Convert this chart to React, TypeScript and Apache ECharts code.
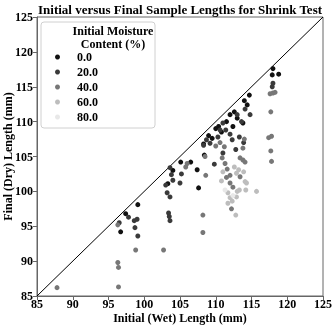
import React, { useEffect, useRef } from "react";
import * as echarts from "echarts";

const moistureLevels = ["0.0", "20.0", "40.0", "60.0", "80.0"];
const levelColors = ["#111111", "#3a3a3a", "#777777", "#bdbdbd", "#e8e8e8"];

const mc0: number[][] = [
  [96.7, 94.2], [97.4, 96.8], [99.1, 98.1], [105.1, 104.2], [106.5, 104.2], [107.4, 103.1],
  [108.4, 105.2], [109.0, 108.0], [110.0, 109.0], [110.4, 109.3], [111.5, 110.0], [112.0, 111.0],
  [112.6, 111.4], [113.0, 110.5], [114.0, 113.0], [114.7, 113.8], [114.4, 112.4], [118.0, 117.6],
  [118.8, 116.8], [117.9, 116.7], [104.0, 103.0], [103.3, 101.1], [113.8, 109.8], [112.4, 109.3],
  [110.8, 108.5], [109.5, 107.6], [108.3, 106.8], [107.6, 100.5],
];
const mc20: number[][] = [
  [96.5, 95.5], [97.8, 96.3], [98.6, 95.8], [99.0, 96.0], [98.7, 94.8], [99.1, 93.6],
  [103.2, 99.8], [103.6, 99.2], [103.4, 96.9], [103.5, 96.4], [103.6, 95.8], [103.0, 100.9],
  [103.6, 103.4], [103.8, 102.4], [104.0, 101.6], [105.2, 102.5], [105.0, 101.2], [109.8, 103.9],
  [110.6, 108.8], [111.0, 109.8], [111.4, 108.8], [112.0, 108.2], [112.3, 107.4], [113.0, 111.0],
  [113.6, 110.0], [114.1, 111.8], [114.8, 111.0], [117.9, 115.0], [118.0, 115.5], [108.7, 107.4],
  [109.2, 106.9], [108.3, 106.6], [110.3, 107.8], [113.3, 107.8], [113.9, 107.0], [112.8, 106.0],
  [111.0, 105.5],
];
const mc40: number[][] = [
  [87.8, 86.2], [96.3, 89.8], [96.4, 89.1], [96.4, 86.3], [96.3, 95.2], [98.8, 91.6],
  [102.7, 91.6], [105.8, 103.5], [108.2, 96.6], [108.2, 94.1], [108.6, 102.3], [117.6, 114.0],
  [118.0, 114.1], [118.3, 114.2], [117.7, 111.4], [117.4, 107.7], [117.8, 107.9], [117.7, 105.8],
  [117.8, 104.3], [110.9, 104.8], [111.3, 104.0], [111.6, 103.2], [111.2, 106.4], [110.6, 107.0],
  [112.0, 102.3], [111.5, 102.0], [112.0, 101.2], [112.4, 100.6], [113.4, 104.8], [113.8, 104.5],
  [114.1, 104.2], [113.4, 102.1], [113.8, 106.2], [114.0, 107.5], [110.0, 106.5], [108.5, 105.0],
  [106.0, 104.0], [112.2, 97.5],
];
const mc60: number[][] = [
  [115.7, 100.0], [111.7, 99.8], [112.0, 99.1], [112.3, 98.6], [111.7, 98.3], [112.8, 96.6],
  [112.9, 102.6], [113.2, 103.1], [113.9, 102.8], [114.1, 101.4], [114.3, 101.2], [113.3, 100.2],
  [114.2, 100.2], [112.9, 99.2], [111.0, 102.8], [110.8, 101.5], [112.6, 103.5], [113.0, 100.0],
];
const mc80: number[][] = [
  [111.3, 100.2], [112.4, 99.4],
];
const seriesData = [mc0, mc20, mc40, mc60, mc80];

const axisTicks = [85, 125, 5];
const diagonal: number[][] = [[85, 85], [125, 125]];

const FONT = '"Liberation Serif", "Times New Roman", serif';

export default function App() {
  const ref = useRef<HTMLDivElement>(null);
  useEffect(() => {
    if (!ref.current) return;
    const chart = echarts.init(ref.current, null, { renderer: "svg" });
    const axisCommon = {
      type: "value",
      min: axisTicks[0],
      max: axisTicks[1],
      interval: axisTicks[2],
      splitLine: { show: false },
      axisLine: { show: true, lineStyle: { color: "#666", width: 1 } },
      axisTick: { show: true, length: 4, lineStyle: { color: "#666" } },
      axisLabel: { color: "#000", fontFamily: FONT, fontWeight: "bold", fontSize: 12 },
      nameLocation: "middle",
      nameMoveOverlap: false,
      nameTextStyle: { color: "#000", fontFamily: FONT, fontWeight: "bold", fontSize: 12 },
    };
    chart.setOption({
      animation: false,
      grid: { left: 37, right: 13, top: 17, bottom: 30, show: true, borderColor: "#666", borderWidth: 1, outerBoundsMode: "none", containLabel: false },
      xAxis: { ...axisCommon, name: "Initial (Wet) Length (mm)", nameGap: 16, axisLabel: { ...axisCommon.axisLabel, margin: 2, lineHeight: 12 } },
      yAxis: { ...axisCommon, name: "Final (Dry) Length (mm)", nameGap: 23, axisLabel: { ...axisCommon.axisLabel, margin: 4 } },
      legend: {
        data: moistureLevels,
        orient: "vertical",
        left: 50,
        top: 46,
        icon: "circle",
        itemWidth: 5,
        itemHeight: 5,
        itemGap: 3,
        textStyle: { color: "#000", fontFamily: FONT, fontWeight: "bold", fontSize: 12, lineHeight: 12, padding: [0, 0, 0, 12] },
      },
      graphic: [
        { type: "rect", shape: { x: 41, y: 22, width: 114, height: 106, r: 3 }, style: { fill: "#fff", stroke: "#d0d0d0", lineWidth: 1 }, z: 1 },
        { type: "text", x: 113, y: 37, z: 2, style: { text: "Initial Moisture\nContent (%)", align: "center", verticalAlign: "middle", lineHeight: 13, font: `bold 12px ${FONT}`, fill: "#000" } },
        { type: "text", x: 180, y: 9, z: 2, style: { text: "Initial versus Final Sample Lengths for Shrink Test", align: "center", verticalAlign: "middle", font: `bold 13px ${FONT}`, fill: "#000" } },
      ],
      series: [
        {
          type: "line",
          data: diagonal,
          symbol: "none",
          lineStyle: { color: "#000", width: 1 },
          silent: true,
          z: 1,
        },
        ...moistureLevels.map((name, i) => ({
          type: "scatter",
          name,
          data: seriesData[i],
          symbolSize: 5,
          itemStyle: { color: levelColors[i], opacity: 1 },
          z: 2,
        })),
      ],
    });
    return () => chart.dispose();
  }, []);
  return <div ref={ref} style={{ position: "fixed", left: 0, top: 0, width: 336, height: 326 }} />;
}
